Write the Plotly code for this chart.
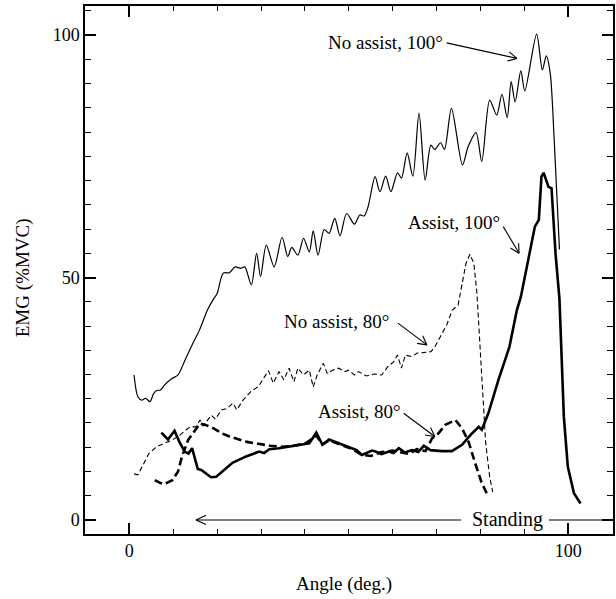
import math
import plotly.graph_objects as go

# ---------------- data ----------------
# No assist, 100 deg (thin solid)
na100_x = [1.07, 1.95, 2.85, 3.7, 4.7, 5.5, 6.2, 7.1, 8.0, 9.8, 11.1, 12.5, 14.3, 16.0, 17.8, 19.2,
           20.0, 21.4, 22.8, 24.1, 25.4, 26.3, 27.8, 29.0, 29.9, 31.2, 33.0, 34.8, 36.1, 37.0, 38.4,
           39.7, 41.0, 41.9, 43.0, 44.4, 45.5, 46.8, 48.0, 49.5, 51.3, 52.5, 53.5, 54.4, 56.0, 57.1,
           58.4, 59.6, 61.1, 62.0, 63.3, 64.6, 66.0, 67.4, 68.7, 69.6, 70.9, 71.8, 73.4, 75.9, 77.2,
           79.0, 80.3, 82.1, 83.7, 84.9, 86.1, 87.0, 87.9, 89.2, 90.1, 92.8, 94.1, 95.0, 95.9, 96.8, 98.0]
na100_y = [29.9, 25.4, 24.7, 25.1, 24.4, 26.0, 26.7, 26.8, 27.8, 29.2, 29.9, 32.6, 36.1, 39.2, 43.3, 45.6,
           46.7, 50.9, 51.0, 52.2, 51.9, 52.2, 48.5, 55.0, 50.2, 56.7, 52.2, 58.3, 54.3, 56.2, 54.6,
           58.1, 55.3, 59.6, 54.6, 59.9, 59.1, 62.2, 58.6, 63.2, 61.0, 62.9, 62.7, 64.6, 70.8, 67.7,
           70.9, 67.7, 71.6, 70.5, 75.7, 70.9, 83.9, 70.1, 77.3, 76.4, 77.8, 76.4, 84.9, 73.2, 77.0,
           79.9, 73.9, 86.6, 83.5, 87.8, 83.0, 90.4, 86.2, 92.6, 88.5, 100.2, 92.8, 95.7, 92.1, 78.4, 55.8]

# No assist, 80 deg (thin dashed)
na80_x = [1.07, 1.95, 3.1, 4.45, 6.2, 8.0, 9.8, 11.1, 12.5, 13.8, 15.2, 16.1, 16.8, 18.7, 19.6, 21.0,
          22.3, 23.6, 24.5, 25.9, 27.7, 29.4, 30.8, 31.7, 32.8, 34.1, 35.2, 36.4, 37.5, 38.4, 39.7,
          41.0, 41.9, 42.8, 44.2, 45.1, 46.4, 47.7, 49.1, 50.0, 51.3, 52.2, 54.0, 55.8, 57.5, 58.9,
          60.2, 61.1, 62.0, 62.9, 64.3, 65.6, 66.9, 68.7, 69.6, 70.9, 72.3, 73.6, 74.9, 75.4, 76.7,
          77.6, 78.5, 79.2, 79.9, 80.5, 81.2, 82.1, 82.8]
na80_y = [9.5, 9.3, 11.3, 13.7, 15.1, 15.8, 16.5, 17.2, 18.2, 19.2, 19.2, 20.6, 19.4, 21.6, 20.8, 22.7,
          23.0, 24.1, 22.7, 24.7, 26.5, 27.5, 29.5, 30.8, 28.2, 30.6, 28.9, 31.3, 28.5, 31.3, 29.9,
          30.9, 27.4, 29.9, 32.3, 30.2, 30.9, 31.3, 30.6, 30.9, 29.9, 30.6, 29.7, 30.1, 29.9, 31.6,
          32.6, 34.0, 31.3, 34.0, 33.7, 34.4, 34.5, 34.7, 35.7, 37.8, 40.2, 43.3, 44.3, 46.7, 52.9,
          54.8, 52.9, 46.7, 35.0, 24.7, 15.8, 8.9, 5.8]

# Assist, 80 deg (thick dashed)
a80_x = [5.8, 7.1, 8.0, 9.8, 11.1, 12.0, 13.4, 14.7, 16.1, 17.4, 19.2, 21.0, 22.8, 25.0, 26.8, 29.4,
         32.1, 34.8, 37.5, 40.2, 42.6, 44.0, 45.5, 48.5, 50.8, 53.0, 55.0, 57.5, 60.0, 62.0, 63.7,
         65.5, 67.5, 68.96, 70.1, 72.0, 74.3, 75.8, 77.3, 78.8, 80.3, 81.8]
a80_y = [8.2, 7.6, 7.4, 8.2, 10.0, 13.1, 16.5, 18.2, 19.9, 19.6, 18.9, 17.9, 17.2, 16.6, 16.1, 15.7,
         15.3, 15.1, 15.3, 15.8, 17.4, 15.6, 16.4, 15.4, 14.6, 13.4, 13.2, 14.0, 14.3, 13.9, 13.6,
         14.6, 14.2, 16.8, 17.5, 19.6, 20.6, 18.9, 16.1, 11.7, 7.6, 4.8]

# Assist, 100 deg (thick solid)
a100_x = [7.3, 8.8, 10.3, 11.4, 12.6, 13.5, 14.3, 15.6, 16.4, 18.6, 19.8, 23.5, 26.6, 29.6, 30.7,
          31.9, 34.1, 37.2, 41.0, 42.6, 44.0, 45.5, 48.5, 50.8, 51.8, 53.0, 55.3, 56.1, 57.5, 59.1,
          60.2, 61.4, 62.8, 64.4, 65.8, 67.1, 68.6, 71.2, 73.5, 75.8, 77.7, 79.6, 80.3, 81.8, 84.1,
          86.6, 88.3, 89.2, 91.0, 92.4, 93.3, 93.9, 94.4, 95.0, 95.5, 96.2, 97.1, 98.0, 99.0, 99.9,
          101.3, 102.8]
a100_y = [18.0, 16.6, 18.4, 16.1, 14.1, 13.7, 14.8, 10.5, 10.3, 8.8, 8.9, 11.8, 13.1, 14.1, 13.8,
          14.6, 14.8, 15.3, 15.8, 18.0, 15.5, 16.6, 15.6, 14.8, 14.4, 13.4, 14.3, 14.1, 13.6, 14.1,
          13.8, 14.8, 13.9, 14.4, 14.0, 15.3, 14.4, 14.2, 14.2, 15.5, 17.5, 19.2, 18.6, 22.0, 28.9,
          35.7, 43.3, 46.0, 54.3, 60.5, 61.9, 70.8, 71.6, 70.1, 68.7, 68.4, 55.0, 45.6, 21.3, 11.0,
          5.5, 3.4]

x_major_step, x_minor_step = 100, 10
y_major_step, y_minor_step = 50, 5

# ---------------- figure ----------------
FONT = "Liberation Serif"
W, H = 616, 599
ML, MR, MT, MB = 85, 1, 6, 65
XR = [-10.1, 110.2]
YR = [-2.9, 106]
PW, PH = W - ML - MR, H - MT - MB
SX = PW / (XR[1] - XR[0])
SY = PH / (YR[1] - YR[0])

fig = go.Figure()
fig.add_trace(go.Scatter(x=na100_x, y=na100_y, mode="lines",
                         line=dict(color="black", width=1.2, shape="spline", smoothing=0.8),
                         name="No assist, 100°"))
fig.add_trace(go.Scatter(x=na80_x, y=na80_y, mode="lines",
                         line=dict(color="black", width=1.1, dash="5px,3px"),
                         name="No assist, 80°"))
fig.add_trace(go.Scatter(x=a80_x, y=a80_y, mode="lines",
                         line=dict(color="black", width=2.6, dash="8px,4px"),
                         name="Assist, 80°"))
fig.add_trace(go.Scatter(x=a100_x, y=a100_y, mode="lines",
                         line=dict(color="black", width=2.6),
                         name="Assist, 100°"))

LINE = dict(color="black", width=1.1)


def arrow(tail, head, L=10, ang=28):
    """Shaft + open V head, drawn as shapes."""
    fig.add_shape(type="line", x0=tail[0], y0=tail[1], x1=head[0], y1=head[1],
                  xref="x", yref="y", line=LINE)
    dx = (head[0] - tail[0]) * SX
    dy = (head[1] - tail[1]) * SY
    n = math.hypot(dx, dy)
    ux, uy = dx / n, dy / n
    for s in (1, -1):
        a = math.radians(ang) * s
        rx = ux * math.cos(a) - uy * math.sin(a)
        ry = ux * math.sin(a) + uy * math.cos(a)
        wx = head[0] - L * rx / SX
        wy = head[1] - L * ry / SY
        fig.add_shape(type="line", x0=wx, y0=wy, x1=head[0], y1=head[1],
                      xref="x", yref="y", line=LINE)


labels = [
    # text, x, y, arrow tail (x, y), arrow head (x, y)
    ("No assist, 100°", 58.4, 98.4, (72.3, 98.4), (88.3, 95.2)),
    ("Assist, 100°", 73.9, 61.3, (85.2, 60.5), (88.8, 55.0)),
    ("No assist, 80°", 47.3, 40.9, (61.2, 40.6), (67.8, 36.1)),
    ("Assist, 80°", 52.5, 22.3, (62.5, 22.0), (69.6, 17.2)),
]
ann = []
for t, tx, ty, tail, head in labels:
    ann.append(dict(text=t, x=tx, y=ty, xref="x", yref="y", showarrow=False,
                    xanchor="center", yanchor="middle",
                    font=dict(family=FONT, size=19, color="black")))
    arrow(tail, head)

# Standing
ann.append(dict(text="Standing", x=86.2, y=0.1, xref="x", yref="y", showarrow=False,
                xanchor="center", yanchor="middle",
                font=dict(family=FONT, size=20, color="black")))
arrow((75.6, 0), (15.2, 0), L=11, ang=25)
fig.add_shape(type="line", x0=95.6, x1=XR[1], y0=0, y1=0, xref="x", yref="y", line=LINE)

# axis titles
ann.append(dict(text="Angle (deg.)", x=(345 - ML) / PW, y=-(584 - (H - MB)) / PH,
                xref="paper", yref="paper", xanchor="center", yanchor="middle",
                showarrow=False, font=dict(family=FONT, size=19, color="black")))
ann.append(dict(text="EMG (%MVC)", x=(23 - ML) / PW, y=((H - MB) - 278) / PH,
                xref="paper", yref="paper", xanchor="center", yanchor="middle",
                showarrow=False, textangle=-90, font=dict(family=FONT, size=19, color="black")))

fig.update_layout(
    width=W, height=H,
    margin=dict(l=ML, r=MR, t=MT, b=MB),
    paper_bgcolor="white", plot_bgcolor="white",
    showlegend=False,
    font=dict(family=FONT, size=18, color="black"),
    annotations=ann,
)
fig.update_xaxes(range=XR, tickmode="linear", tick0=0, dtick=x_major_step,
                 ticks="inside", ticklen=11,
                 tickwidth=1.5, tickcolor="black", showline=True, linecolor="black",
                 linewidth=1.5, mirror="allticks", showgrid=False, zeroline=False,
                 minor=dict(tickmode="linear", tick0=0, dtick=x_minor_step, ticks="inside",
                            ticklen=5, tickwidth=1.2, tickcolor="black", showgrid=False),
                 tickfont=dict(family=FONT, size=18))
fig.update_yaxes(range=YR, tickmode="linear", tick0=0, dtick=y_major_step,
                 ticks="inside", ticklen=11,
                 tickwidth=1.5, tickcolor="black", showline=True, linecolor="black",
                 linewidth=1.5, mirror="allticks", showgrid=False, zeroline=False,
                 minor=dict(tickmode="linear", tick0=0, dtick=y_minor_step, ticks="inside",
                            ticklen=6, tickwidth=1.2, tickcolor="black", showgrid=False),
                 tickfont=dict(family=FONT, size=18))

fig.write_html("out.html", config={"displayModeBar": False},
               post_script="document.body.style.margin='0';")
